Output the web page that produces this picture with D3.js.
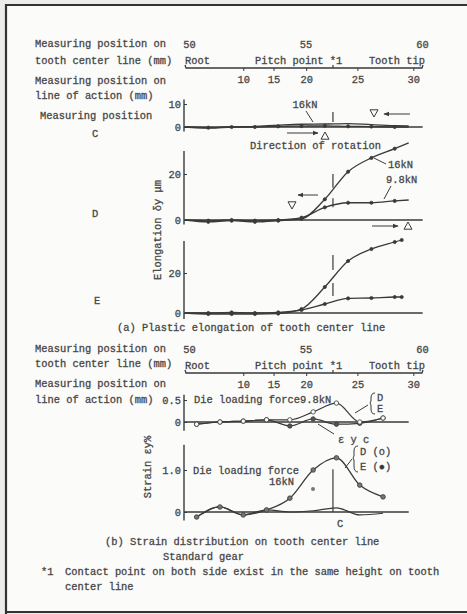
<!DOCTYPE html>
<html><head><meta charset="utf-8">
<script src="https://cdn.jsdelivr.net/npm/d3@7"></script>
<style>
body{margin:0;background:#ececea;}
svg text{font-family:"Liberation Mono","DejaVu Sans Mono",monospace;font-size:10.4px;fill:#383838;stroke:#555;stroke-width:0.3px;}
</style></head><body>
<svg id="c" width="467" height="614"></svg>
<script>
// ---------- data ----------
const centerTicks = [50, 55, 60];                 // measuring position on tooth center line (mm)
const actionTicks = [10, 15, 20, 25, 30];         // measuring position on line of action (mm)
const actionTickMM = [52.5, 53.8, 55.2, 57.4, 59.8]; // same ticks expressed on tooth center line (mm)
const pitchPointMM = 56.35;

const xA = [50, 51, 52, 53, 54, 55, 56, 57, 58, 59, 59.6];
const C16 = [0, -0.5, 0, 0.3, 0.8, 1.2, 1.3, 1.5, 1.0, 0.6, 0.5];
const C98 = [0, -0.3, 0, 0, 0.3, 0.4, 0.5, 0.3, 0.2, 0, 0];
const D16 = [0, -0.8, -0.3, -0.8, -0.3, 0.5, 9, 21, 27, 31, 33.5];
const D98 = [0, -0.3, 0, -0.3, 0, 1, 5.5, 7.5, 7.5, 8.3, 8.7];
const xE = [50, 51, 52, 53, 54, 55, 56, 57, 58, 59, 59.3];
const E16 = [0, -0.5, -0.5, -0.5, -0.3, 2, 13, 26, 32, 35.5, 36.5];
const E98 = [0, 0, 0.3, 0, 0.3, 1.5, 4.5, 7.3, 7.5, 8, 8];

const xB = [50.5, 51.5, 52.5, 53.5, 54.5, 55.5, 56.5, 57.5, 58.5];
const S98a = [-0.05, 0, 0.02, 0.05, 0.05, 0.23, 0.43, 0.0, 0.09];
const S98b = [-0.05, 0, 0.02, 0.05, -0.09, 0.07, -0.05, -0.03, 0.09];
const S16D = [-0.12, 0.12, -0.07, 0.05, 0.33, 1.0, 1.29, 0.64, 0.36];
const S16C = [-0.12, 0.12, -0.07, 0.05, 0.0, 0.03, 0.1, -0.07, -0.03];

// ---------- drawing ----------
const svg = d3.select('#c');
const ink = '#3a3a3a';
svg.append('rect').attr('x', 6).attr('y', 5).attr('width', 461).attr('height', 607).attr('fill', '#fbfbf9');
svg.append('path').attr('d', 'M6,614 L6,5 L467,5 M6,612 L467,612').attr('fill', 'none').attr('stroke', '#333').attr('stroke-width', 2.2);

const defs = svg.append('defs');
defs.append('marker').attr('id', 'ah').attr('viewBox', '0 0 10 10').attr('refX', 9).attr('refY', 5)
  .attr('markerWidth', 6).attr('markerHeight', 6).attr('orient', 'auto')
  .append('path').attr('d', 'M0,1 L10,5 L0,9 Z').attr('fill', ink);

const x = d3.scaleLinear().domain([50, 60]).range([185, 418]);
const yC = d3.scaleLinear().domain([0, 10]).range([127, 104]);
const yD = d3.scaleLinear().domain([0, 20]).range([220, 174]);
const yE = d3.scaleLinear().domain([0, 20]).range([313, 273]);
const yS1 = d3.scaleLinear().domain([0, 0.5]).range([422, 400]);
const yS2 = d3.scaleLinear().domain([0, 1]).range([512, 470]);

function txt(t, px, py, anchor) {
  return svg.append('text').attr('x', px).attr('y', py).attr('text-anchor', anchor || 'start').text(t);
}
function seg(x1, y1, x2, y2, w, arrow) {
  const l = svg.append('line').attr('x1', x1).attr('y1', y1).attr('x2', x2).attr('y2', y2)
    .attr('stroke', ink).attr('stroke-width', w || 1);
  if (arrow) l.attr('marker-end', 'url(#ah)');
  return l;
}
function tri(cx, cy, up) {
  const s = 4;
  const d = up ? `M${cx},${cy - s} L${cx + s},${cy + s * 0.8} L${cx - s},${cy + s * 0.8} Z`
               : `M${cx},${cy + s} L${cx + s},${cy - s * 0.8} L${cx - s},${cy - s * 0.8} Z`;
  svg.append('path').attr('d', d).attr('fill', 'none').attr('stroke', ink).attr('stroke-width', 1);
}

function topScale(y0, labY) {
  txt('Measuring position on', 35, labY[0]);
  txt('tooth center line (mm)', 35, labY[1]);
  txt('Measuring position on', 35, labY[2]);
  txt('line of action (mm)', 35, labY[3]);
  const gt = svg.append('g').attr('transform', `translate(4,${y0})`)
    .call(d3.axisTop(x).tickValues(centerTicks).tickSize(0).tickPadding(20).tickFormat(d3.format('d')));
  gt.select('.domain').remove();
  gt.selectAll('text').attr('font-size', null).attr('font-family', null).attr('fill', null);
  txt('Root', 185, y0 - 4);
  txt('Pitch point *1', 255, y0 - 4);
  txt('Tooth tip', 425, y0 - 4, 'end');
  svg.append('path').attr('d', `M185,${y0 - 3} L186,${y0} L422,${y0} L423,${y0 - 3}`)
    .attr('fill', 'none').attr('stroke', ink).attr('stroke-width', 1.3);
  const gb = svg.append('g').attr('transform', `translate(0,${y0})`)
    .call(d3.axisBottom(x).tickValues(actionTickMM).tickSize(3).tickPadding(5)
      .tickFormat((d, i) => actionTicks[i]));
  gb.select('.domain').remove();
  gb.selectAll('line').attr('stroke', ink);
  gb.selectAll('text').attr('font-size', null).attr('font-family', null).attr('fill', null);
  seg(x(pitchPointMM), y0, x(pitchPointMM), y0 - 3, 1.2);
}

function yAxis(scale, ticks, lo, hi, fmt) {
  const g = svg.append('g').attr('transform', 'translate(184,0)')
    .call(d3.axisLeft(scale).tickValues(ticks).tickSize(-3).tickPadding(3).tickFormat(fmt || d3.format('d')));
  g.select('.domain').remove();
  g.selectAll('line').attr('stroke', ink);
  g.selectAll('text').attr('font-size', null).attr('font-family', null).attr('fill', null);
  seg(184, scale(lo), 184, scale(hi), 1.4);
}
function zero(scale, x2) { seg(184, scale(0), x(x2), scale(0), 1.4); }
function series(xs, ys, scale, w, dots, r, fill) {
  const ln = d3.line().x((d, i) => x(xs[i])).y(d => scale(d)).curve(d3.curveMonotoneX);
  svg.append('path').attr('d', ln(ys)).attr('fill', 'none').attr('stroke', ink).attr('stroke-width', w);
  if (dots) {
    svg.selectAll(null).data(ys.slice(dots[0], dots[1])).enter().append('circle')
      .attr('cx', (d, i) => x(xs[i + dots[0]])).attr('cy', d => scale(d)).attr('r', r || 1.6)
      .attr('fill', fill || ink).attr('stroke', ink).attr('stroke-width', 0.8);
  }
}

// ===== (a) =====
topScale(68, [47, 64, 84, 99]);

// panel C
yAxis(yC, [0, 10], -2, 12);
zero(yC, 60.2);
series(xA, C16, yC, 1.3);
series(xA, C98, yC, 1.3, [1, 10]);
txt('Measuring position', 40, 119);
txt('C', 95, 137, 'middle');
txt('16kN', 305, 108, 'middle');
seg(306, 111, 313, 122, 1);
seg(x(pitchPointMM), yC(6.5), x(pitchPointMM), yC(2.2), 1.2);
tri(374, 113, false);
seg(410, 114, 384, 114, 1, true);
seg(287, 133, 318, 133, 1, true);
tri(325, 136, true);
txt('Direction of rotation', 250, 149);

// panel D
yAxis(yD, [0, 20], -2, 30);
zero(yD, 60.2);
series(xA, D16, yD, 1.3, [1, 10]);
series(xA, D98, yD, 1.3, [1, 10]);
txt('D', 95, 217, 'middle');
txt('16kN', 388, 168);
seg(386, 164, 374, 158, 1);
txt('9.8kN', 386, 183);
seg(391, 186, 384, 199, 1);
seg(x(pitchPointMM), yD(20), x(pitchPointMM), yD(14), 1.2);
seg(x(pitchPointMM), yD(9.5), x(pitchPointMM), yD(5.5), 1.2);
seg(318, 195, 298, 195, 1, true);
tri(292, 205, false);
seg(372, 226, 398, 226, 1, true);
tri(408, 226, true);

// panel E
yAxis(yE, [0, 20], -3, 36);
zero(yE, 60.2);
series(xE, E16, yE, 1.3, [1, 11]);
series(xE, E98, yE, 1.3, [1, 11]);
txt('E', 97, 304, 'middle');
seg(x(pitchPointMM), yE(29), x(pitchPointMM), yE(21.5), 1.2);
seg(x(pitchPointMM), yE(15), x(pitchPointMM), yE(8.5), 1.2);

svg.append('text').attr('transform', 'translate(161,230) rotate(-90)').attr('text-anchor', 'middle')
  .text('Elongation δy μm');
txt('(a)  Plastic elongation of tooth center line', 117, 331);

// ===== (b) =====
topScale(373, [352, 367, 387, 403]);

// upper strain panel (9.8kN)
yAxis(yS1, [0, 0.5], -0.2, 0.62, d => d === 0 ? '0' : '0.5');
zero(yS1, 59.6);
series(xB, S98b, yS1, 1.2, [0, 9], 2.2, '#555');
series(xB, S98a, yS1, 1.2, [0, 9], 2.2, '#fbfbf9');
txt('Die loading force9.8kN', 194, 403);
txt('D', 377, 401);
txt('E', 377, 412);
svg.append('path').attr('d', 'M375,393 Q371,393 371,398 L371,401 Q369,403 371,405 L371,409 Q371,414 375,414')
  .attr('fill', 'none').attr('stroke', ink);
seg(368, 405, 355, 413, 1);
txt('ε y c', 338, 443);
seg(318, 424, 334, 434, 1);

// lower strain panel (16kN)
yAxis(yS2, [0, 1], -0.2, 1.6, d => d === 0 ? '0' : '1.0');
zero(yS2, 59.6);
series(xB, S16C, yS2, 1.2);
series(xB, S16D, yS2, 1.3, [0, 9], 2.3, '#777');
txt('Die loading force', 193, 474);
txt('16kN', 294, 485, 'end');
svg.append('circle').attr('cx', 313).attr('cy', 489).attr('r', 2).attr('fill', '#777');
seg(x(pitchPointMM), yS2(1.02), x(pitchPointMM), yS2(0), 1.2);
txt('C', 340, 527, 'middle');
txt('D (o)', 360, 455);
txt('E (●)', 360, 470);
svg.append('path').attr('d', 'M358,446 Q354,446 354,451 L354,456 Q352,458 354,460 L354,466 Q354,472 358,472')
  .attr('fill', 'none').attr('stroke', ink);
seg(352, 459, 345, 468, 1);

svg.append('text').attr('transform', 'translate(151,467) rotate(-90)').attr('text-anchor', 'middle')
  .text('Strain εy%');

txt('(b) Strain distribution on tooth center line', 105, 545);
txt('Standard gear', 163, 560);
txt('*1', 41, 575);
txt('Contact point on both side exist in the same height on tooth', 65, 575);
txt('center line', 65, 590);
</script>
</body></html>
